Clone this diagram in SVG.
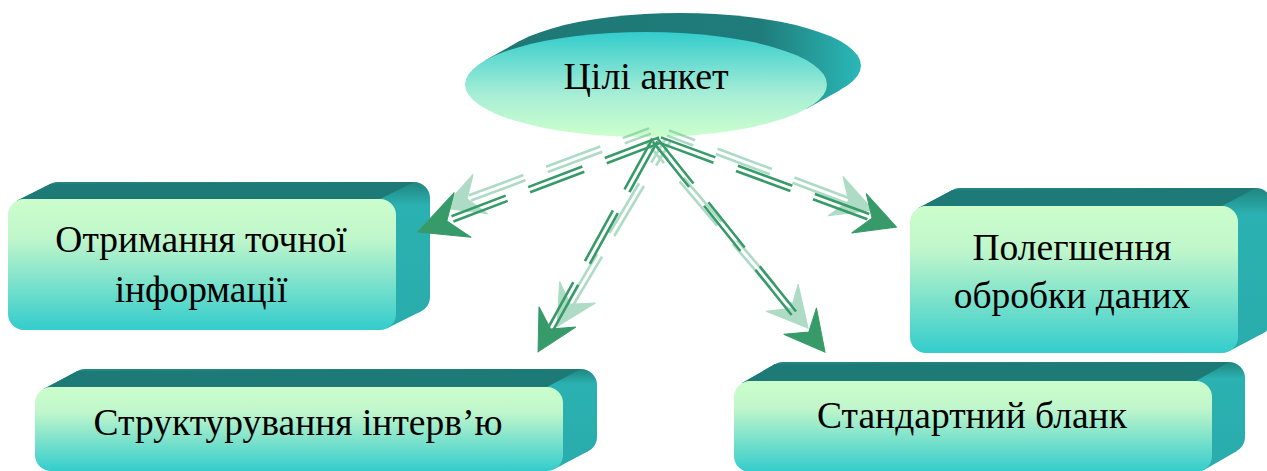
<svg xmlns="http://www.w3.org/2000/svg" width="1267" height="471" viewBox="0 0 1267 471">
  <defs>
    <linearGradient id="faceGrad" x1="0" y1="0" x2="0" y2="1">
      <stop offset="0" stop-color="#ccfecc"/>
      <stop offset="0.3" stop-color="#c0f6cb"/>
      <stop offset="1" stop-color="#33cccc"/>
    </linearGradient>
    <linearGradient id="ovalGrad" x1="0" y1="0" x2="0" y2="1">
      <stop offset="0" stop-color="#33cccc"/>
      <stop offset="0.6" stop-color="#a8eed6"/>
      <stop offset="1" stop-color="#ccffcc"/>
    </linearGradient>
    <linearGradient id="sideGrad" x1="0" y1="0" x2="0" y2="1">
      <stop offset="0" stop-color="#21857f"/>
      <stop offset="0.18" stop-color="#2bb1b1"/>
      <stop offset="1" stop-color="#2aacac"/>
    </linearGradient>
    <linearGradient id="ovalSide" gradientUnits="userSpaceOnUse" x1="500" y1="0" x2="862" y2="0">
      <stop offset="0" stop-color="#1e7876"/>
      <stop offset="0.72" stop-color="#1f7c7a"/>
      <stop offset="1" stop-color="#2bb8b8"/>
    </linearGradient>
    <!-- single arrowhead shape pointing along +x, tip at origin -->
    <polygon id="head" points="0,0 -40,-21 -26,0 -40,21"/>
    <polygon id="headBig" points="0,0 -48,-24 -31,0 -48,24"/>
  </defs>
  <style>
    .top { fill: #1e7a77; }
    .side { fill: url(#sideGrad); }
    .front { fill: url(#faceGrad); }
    .label { font-family: "Liberation Serif", "Times New Roman", serif; font-size: 37.5px; fill: #000; text-anchor: middle; }
    .title { font-size: 38px; }
    .shaft { stroke-width: 2.6; stroke-dasharray: 58 24; fill: none; }
    .main { stroke: #379b69; fill: #379b69; }
    .ghost { stroke: #5fb88c; fill: #5fb88c; opacity: 0.5; }
  </style>

  <!-- central oval -->
  <g id="goals">
    <ellipse cx="680" cy="65.5" rx="181" ry="52.5" fill="url(#ovalSide)"/>
    <polygon points="806.7,108.7 485.3,60.3 519.3,41.3 840.7,89.7" fill="url(#ovalSide)"/>
    <ellipse cx="646" cy="84.5" rx="181" ry="52.5" fill="url(#ovalGrad)"/>
    <text class="label title" x="646" y="89">Цілі анкет</text>
  </g>

  <!-- block: accurate information -->
  <g id="accurate-info">
    <rect class="side" x="42" y="182" width="388" height="131" rx="16"/>
    <polygon class="side" points="16.8,200.7 50.8,183.7 421.2,311.3 387.2,328.3"/>
    <polygon class="top" points="16.8,200.7 50.8,183.7 414,182 380,199"/>
    <rect class="front" x="8" y="199" width="388" height="131" rx="16"/>
    <text class="label" x="201" y="252">Отримання точної</text>
    <text class="label" x="201" y="302">інформації</text>
  </g>

  <!-- block: easier data processing -->
  <g id="data-processing">
    <rect class="side" x="944" y="188" width="328" height="147" rx="16"/>
    <polygon class="side" points="918.5,207.9 952.5,189.9 1263.5,333.1 1229.5,351.1"/>
    <polygon class="top" points="918.5,207.9 952.5,189.9 1256,188 1222,206"/>
    <rect class="front" x="910" y="206" width="328" height="147" rx="16"/>
    <text class="label" x="1072" y="260">Полегшення</text>
    <text class="label" x="1072" y="308">обробки даних</text>
  </g>

  <!-- block: interview structuring -->
  <g id="interview">
    <rect class="side" x="69" y="369" width="528" height="84" rx="16"/>
    <polygon class="side" points="43.5,388.9 77.5,370.9 588.5,451.1 554.5,469.1"/>
    <polygon class="top" points="43.5,388.9 77.5,370.9 581,369 547,387"/>
    <rect class="front" x="35" y="387" width="528" height="84" rx="16"/>
    <text class="label" x="298" y="435">Структурування інтерв’ю</text>
  </g>

  <!-- block: standard form -->
  <g id="standard-form">
    <rect class="side" x="767" y="362" width="478" height="91" rx="16"/>
    <polygon class="side" points="742,383.1 775,364.1 1237,450.9 1204,469.9"/>
    <polygon class="top" points="742,383.1 775,364.1 1229,362 1196,381"/>
    <rect class="front" x="734" y="381" width="478" height="91" rx="16"/>
    <text class="label" x="972" y="428">Стандартний бланк</text>
  </g>

  <!-- connectors: double dashed shafts with barbed heads, each with a faint trailing copy -->
  <g id="connectors">
    <g class="ghost">
      <g transform="translate(650,131) rotate(159.6)">
        <line class="shaft" x1="0" y1="-2.8" x2="197" y2="-2.8" stroke-dashoffset="30"/>
        <line class="shaft" x1="0" y1="2.8" x2="197" y2="2.8" stroke-dashoffset="30"/>
        <use href="#head" x="221" y="0"/>
      </g>
      <g transform="translate(668,140) rotate(120.7)">
        <line class="shaft" x1="0" y1="-2.8" x2="195" y2="-2.8" stroke-dashoffset="30"/>
        <line class="shaft" x1="0" y1="2.8" x2="195" y2="2.8" stroke-dashoffset="30"/>
        <use href="#head" x="217" y="0"/>
      </g>
      <g transform="translate(648,140) rotate(49.6)">
        <line class="shaft" x1="0" y1="-2.8" x2="225" y2="-2.8" stroke-dashoffset="30"/>
        <line class="shaft" x1="0" y1="2.8" x2="225" y2="2.8" stroke-dashoffset="30"/>
        <use href="#head" x="247" y="0"/>
      </g>
      <g transform="translate(668,133) rotate(20.6)">
        <line class="shaft" x1="0" y1="-2.8" x2="197" y2="-2.8" stroke-dashoffset="30"/>
        <line class="shaft" x1="0" y1="2.8" x2="197" y2="2.8" stroke-dashoffset="30"/>
        <use href="#head" x="219" y="0"/>
      </g>
    </g>
    <g class="main">
      <g transform="translate(660,140) rotate(159.2)">
        <line class="shaft" x1="0" y1="-2.8" x2="240" y2="-2.8"/>
        <line class="shaft" x1="0" y1="2.8" x2="240" y2="2.8"/>
        <use href="#headBig" x="259" y="0"/>
      </g>
      <g transform="translate(655,140) rotate(118.9)">
        <line class="shaft" x1="0" y1="-2.8" x2="225" y2="-2.8"/>
        <line class="shaft" x1="0" y1="2.8" x2="225" y2="2.8"/>
        <use href="#head" x="242" y="0"/>
      </g>
      <g transform="translate(655,140) rotate(51.3)">
        <line class="shaft" x1="0" y1="-2.8" x2="255" y2="-2.8"/>
        <line class="shaft" x1="0" y1="2.8" x2="255" y2="2.8"/>
        <use href="#head" x="272" y="0"/>
      </g>
      <g transform="translate(660,140) rotate(20.2)">
        <line class="shaft" x1="0" y1="-2.8" x2="235" y2="-2.8"/>
        <line class="shaft" x1="0" y1="2.8" x2="235" y2="2.8"/>
        <use href="#head" x="252" y="0"/>
      </g>
    </g>
  </g>
</svg>
